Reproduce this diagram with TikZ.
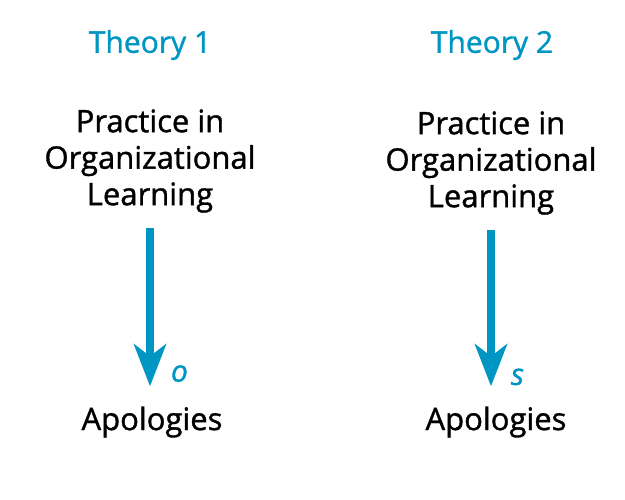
\documentclass[tikz,border=0pt]{standalone}
\usepackage{fontspec}
\setmainfont{Open Sans}[FakeBold=1.2]
\usepackage{xcolor}
\usetikzlibrary{positioning,calc,arrows.meta}
\definecolor{theoryblue}{RGB}{0,150,196}

\begin{document}
\begin{tikzpicture}[x=1pt,y=-1pt,
    heading/.style={text=theoryblue, font=\fontsize{30}{36}\selectfont, inner sep=0pt},
    concept/.style={align=center, font=\fontsize{31}{36.5}\selectfont, inner sep=0pt},
    flow/.style={draw=theoryblue, line width=8pt, -{Stealth[length=42pt,width=32pt,inset=12pt]}},
    sign/.style={text=theoryblue, font=\fontsize{30}{36}\selectfont\itshape, inner sep=0pt}]
        \useasboundingbox (0,0) rectangle (625,499);
        % Theory 1
        \node[heading] (th1) at (150,45) {Theory 1};
        \node[concept] (prac1) at (150,161) {Practice in\\Organizational\\Learning};
        \node[concept] (apol1) at (152,422) {Apologies};
        \draw[flow] ([yshift=-15pt]prac1.south) -- ([yshift=20pt]prac1.south |- apol1.north)
            node[sign, right=17pt, pos=0.92] (sg1) {o};
        
        % Theory 2
        \node[heading] (th2) at (492,45) {Theory 2};
        \node[concept] (prac2) at (491,163) {Practice in\\Organizational\\Learning};
        \node[concept] (apol2) at (496,422) {Apologies};
        \draw[flow] ([yshift=-15pt]prac2.south) -- ([yshift=20pt]prac2.south |- apol2.north)
            node[sign, right=16pt, pos=0.94] (sg2) {s};
    \end{tikzpicture}
\end{document}
